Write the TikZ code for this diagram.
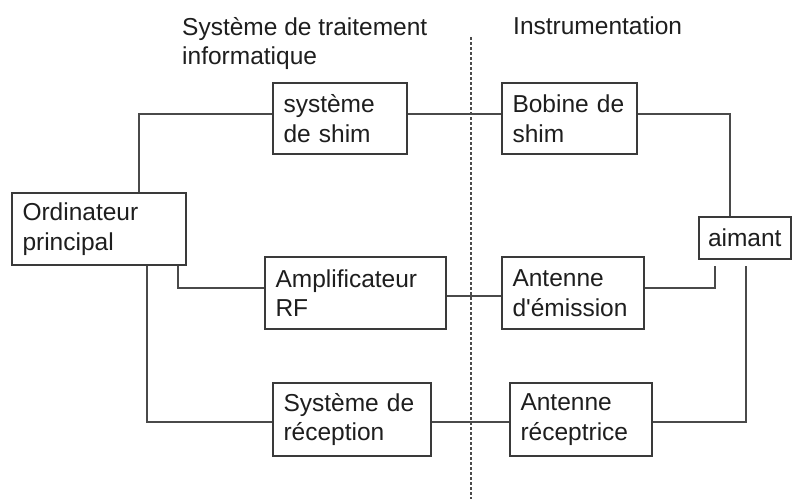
\documentclass[tikz,border=0pt]{standalone}
\usepackage{fontspec}
\setmainfont{Liberation Sans}
\definecolor{boxline}{HTML}{3A3A3A}
\definecolor{wire}{HTML}{4A4A4A}
\definecolor{txt}{HTML}{1E1E1E}
\begin{document}
\begin{tikzpicture}[x=1pt,y=-1pt,
  box/.style={draw=boxline, line width=1.3pt, fill=white, text=txt, align=left,
    inner xsep=10.5pt, inner ysep=0pt, font=\fontsize{24.5}{29.5}\selectfont},
  wireline/.style={draw=wire, line width=1.2pt},
  sepline/.style={draw=wire, line width=1.1pt, dash pattern=on 3pt off 2pt},
  head/.style={text=txt, align=left, inner sep=0pt, anchor=north west, font=\fontsize{24.5}{29}\selectfont}]
\useasboundingbox (0,0) rectangle (794,499);
\fill[white] (0,0) rectangle (794,499);

% headings
\node[head] (h1) at (182,17) {Système de traitement\\informatique};
\node[head] (h2) at (513,17) {Instrumentation};

% boxes
\node[box, text width=113pt, minimum height=71pt] (shimsys) at (340,118.5) {système\\de shim};
\node[box, text width=114pt, minimum height=71pt] (bobine) at (569.5,118.5) {Bobine de\\shim};
\node[box, text width=153pt, minimum height=72pt] (ord) at (99,229) {Ordinateur\\principal};
\node[box, text width=74pt, inner xsep=9pt, minimum height=42pt] (aimant) at (745,238) {aimant};
\node[box, text width=160pt, minimum height=72pt] (ampli) at (355.5,293) {Amplificateur\\RF};
\node[box, text width=121pt, minimum height=72pt] (emis) at (573,293) {Antenne\\d\textquotesingle émission};
\node[box, text width=137pt, minimum height=73pt] (recep) at (352,419.5) {Système de\\réception};
\node[box, text width=121pt, minimum height=73pt] (antrec) at (581,419.5) {Antenne\\réceptrice};

% routing coordinates
\coordinate (ytop) at (0,114);
\coordinate (ymid) at (0,288);
\coordinate (yem) at (0,296);
\coordinate (ybot) at (0,422);
\coordinate (xa) at (139,0);
\coordinate (xb) at (178,0);
\coordinate (xc) at (147,0);
\coordinate (xr1) at (730,0);
\coordinate (xr2) at (715,0);
\coordinate (xr3) at (746,0);

\draw[wireline] (ord.north -| xa) |- (shimsys.west |- ytop);
\draw[wireline] (shimsys.east |- ytop) -- (bobine.west |- ytop);
\draw[wireline] (bobine.east |- ytop) -| (aimant.north -| xr1);
\draw[wireline] (ord.south -| xb) |- (ampli.west |- ymid);
\draw[wireline] (ampli.east |- yem) -- (emis.west |- yem);
\draw[wireline, shorten >=6pt] (emis.east |- ymid) -| (aimant.south -| xr2);
\draw[wireline] (ord.south -| xc) |- (recep.west |- ybot);
\draw[wireline] (recep.east |- ybot) -- (antrec.west |- ybot);
\draw[wireline, shorten >=6pt] (antrec.east |- ybot) -| (aimant.south -| xr3);

% separator
\coordinate (dtop) at (471,37);
\coordinate (dbot) at (471,499);
\draw[sepline] (dtop) -- (dbot);
\end{tikzpicture}
\end{document}
